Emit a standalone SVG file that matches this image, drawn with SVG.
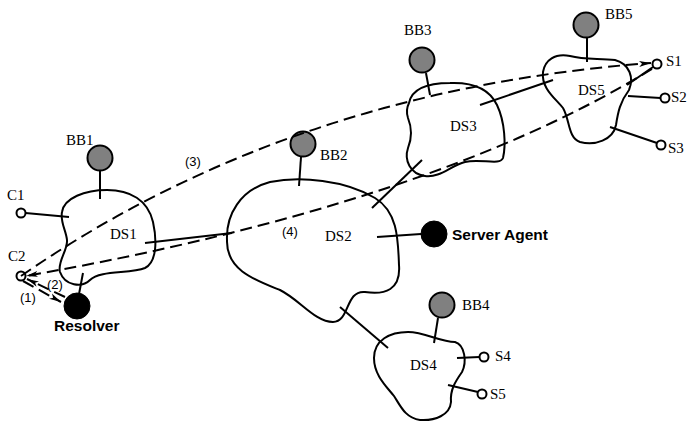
<svg xmlns="http://www.w3.org/2000/svg" width="689" height="422" viewBox="0 0 689 422">
  <style>
    .blob { fill: none; stroke: #000; stroke-width: 2; }
    .ln { fill: none; stroke: #000; stroke-width: 2; }
    .dash { fill: none; stroke: #000; stroke-width: 2; stroke-dasharray: 12 6; }
    .bb { fill: #808080; stroke: #000; stroke-width: 2; }
    .agent { fill: #000; stroke: #000; stroke-width: 1; }
    .port { fill: #fff; stroke: #000; stroke-width: 2; }
    .lbl { font-family: "Liberation Serif", "Times New Roman", serif; font-size: 15px; fill: #000; }
    .bold { font-family: "Liberation Sans", Arial, sans-serif; font-size: 15.5px; font-weight: bold; fill: #000; }
    .step { font-family: "Liberation Sans", Arial, sans-serif; font-size: 13px; fill: #000; }
  </style>
  <defs>
    <marker id="arrow" markerUnits="userSpaceOnUse" markerWidth="13" markerHeight="7" refX="12" refY="3.5" orient="auto">
      <path d="M0,0.5 L12,3.5 L0,6.5 L3,3.5 Z" fill="#000" stroke="none"/>
    </marker>
  </defs>

  <!-- domain DS1 with its client ports -->
  <g id="ds1">
    <path class="blob" d="M62,212 C64,198 85,190 107,190 C130,190 148,200 153,222 C157,240 157,262 145,268 C130,274 100,270 90,280 C82,288 65,286 60,272 C57,262 68,250 67,240 C66,230 60,222 62,212 Z"/>
    <text class="lbl" x="110" y="239">DS1</text>
  </g>
  <g id="bb1">
    <circle class="bb" cx="100" cy="158" r="12.5"/>
    <line class="ln" x1="100" y1="171" x2="100" y2="199"/>
    <text class="lbl" x="66" y="145">BB1</text>
  </g>
  <g id="c1">
    <circle class="port" cx="21" cy="213" r="4.5"/>
    <line class="ln" x1="25.5" y1="213" x2="69" y2="217"/>
    <text class="lbl" x="7" y="200">C1</text>
  </g>
  <g id="c2">
    <circle class="port" cx="21" cy="276" r="4.5"/>
    <text class="lbl" x="8" y="261">C2</text>
  </g>
  <g id="resolver">
    <circle class="agent" cx="77" cy="306" r="13"/>
    <line class="ln" x1="83" y1="273" x2="79" y2="294"/>
    <text class="bold" x="54" y="331">Resolver</text>
  </g>

  <!-- domain DS2 -->
  <g id="ds2">
    <path class="blob" d="M227,240 C226,215 240,190 270,182 C300,176 345,180 375,198 C398,212 398,240 399,265 C401,290 385,295 365,292 C345,290 350,322 333,322 C315,322 300,300 280,290 C255,280 226,270 227,240 Z"/>
    <text class="lbl" x="325" y="241">DS2</text>
  </g>
  <g id="bb2">
    <circle class="bb" cx="303" cy="144" r="12.5"/>
    <line class="ln" x1="301" y1="157" x2="299" y2="186"/>
    <text class="lbl" x="320" y="160">BB2</text>
  </g>
  <g id="server-agent">
    <circle class="agent" cx="434" cy="234" r="13"/>
    <line class="ln" x1="377" y1="237" x2="421" y2="234"/>
    <text class="bold" x="452" y="240">Server Agent</text>
  </g>

  <!-- domain DS3 -->
  <g id="ds3">
    <path class="blob" d="M409,103 C412,88 430,83 450,83 C475,82 490,90 497,105 C505,122 506,145 503,158 C500,166 480,158 465,162 C450,166 440,178 425,176 C410,174 404,160 408,148 C412,138 412,128 408,118 C406,112 407,107 409,103 Z"/>
    <text class="lbl" x="450" y="131">DS3</text>
  </g>
  <g id="bb3">
    <circle class="bb" cx="422" cy="60" r="12.5"/>
    <line class="ln" x1="426" y1="73" x2="430" y2="95"/>
    <text class="lbl" x="404" y="35">BB3</text>
  </g>

  <!-- domain DS5 with server ports -->
  <g id="ds5">
    <path class="blob" d="M543,72 C545,60 555,53 570,56 C585,60 600,58 615,60 C630,64 634,78 629,90 C620,102 618,112 616,125 C613,140 595,146 580,142 C568,138 570,120 563,108 C555,98 541,88 543,72 Z"/>
    <text class="lbl" x="578" y="95">DS5</text>
  </g>
  <g id="bb5">
    <circle class="bb" cx="586" cy="25" r="12.5"/>
    <line class="ln" x1="587" y1="38" x2="587" y2="62"/>
    <text class="lbl" x="605" y="19">BB5</text>
  </g>
  <g id="s1">
    <circle class="port" cx="657" cy="64" r="4.5"/>
    <line class="ln" x1="627" y1="85" x2="653" y2="67"/>
    <text class="lbl" x="666" y="66">S1</text>
  </g>
  <g id="s2">
    <circle class="port" cx="665" cy="98" r="4.5"/>
    <line class="ln" x1="628" y1="96" x2="660.5" y2="98"/>
    <text class="lbl" x="671" y="102">S2</text>
  </g>
  <g id="s3">
    <circle class="port" cx="661" cy="145" r="4.5"/>
    <line class="ln" x1="610" y1="127" x2="657" y2="143"/>
    <text class="lbl" x="668" y="153">S3</text>
  </g>

  <!-- domain DS4 with server ports -->
  <g id="ds4">
    <path class="blob" d="M374,358 C374,340 390,332 408,332 C425,332 440,342 455,342 C465,345 467,362 462,372 C455,382 450,390 451,402 C450,415 435,421 420,420 C405,418 400,405 394,396 C386,386 374,375 374,358 Z"/>
    <text class="lbl" x="410" y="370">DS4</text>
  </g>
  <g id="bb4">
    <circle class="bb" cx="442" cy="305" r="12.5"/>
    <line class="ln" x1="438" y1="318" x2="434" y2="343"/>
    <text class="lbl" x="462" y="310">BB4</text>
  </g>
  <g id="s4">
    <circle class="port" cx="484" cy="357" r="4.5"/>
    <line class="ln" x1="457" y1="358" x2="479.5" y2="357"/>
    <text class="lbl" x="495" y="361">S4</text>
  </g>
  <g id="s5">
    <circle class="port" cx="482" cy="394" r="4.5"/>
    <line class="ln" x1="448" y1="385" x2="478" y2="392"/>
    <text class="lbl" x="490" y="399">S5</text>
  </g>

  <!-- links between domains and message flows -->
  <g id="connectors">
    <line class="ln" x1="145" y1="243" x2="232" y2="233"/>
    <line class="ln" x1="372" y1="208" x2="422" y2="160"/>
    <line class="ln" x1="480" y1="105" x2="553" y2="80"/>
    <line class="ln" x1="340" y1="307" x2="388" y2="348"/>

    <path class="dash" d="M23,281 L61,302" marker-end="url(#arrow)"/>
    <path class="dash" d="M65,297 L27,279" marker-end="url(#arrow)"/>
    <path class="dash" d="M21,276 Q290,90 651,63" marker-end="url(#arrow)"/>
    <path class="dash" d="M652,69 Q430,205 26,276" marker-end="url(#arrow)"/>

    <text class="step" x="20" y="302">(1)</text>
    <text class="step" x="47" y="289">(2)</text>
    <text class="step" x="185" y="166">(3)</text>
    <text class="step" x="282" y="236">(4)</text>
  </g>
</svg>
